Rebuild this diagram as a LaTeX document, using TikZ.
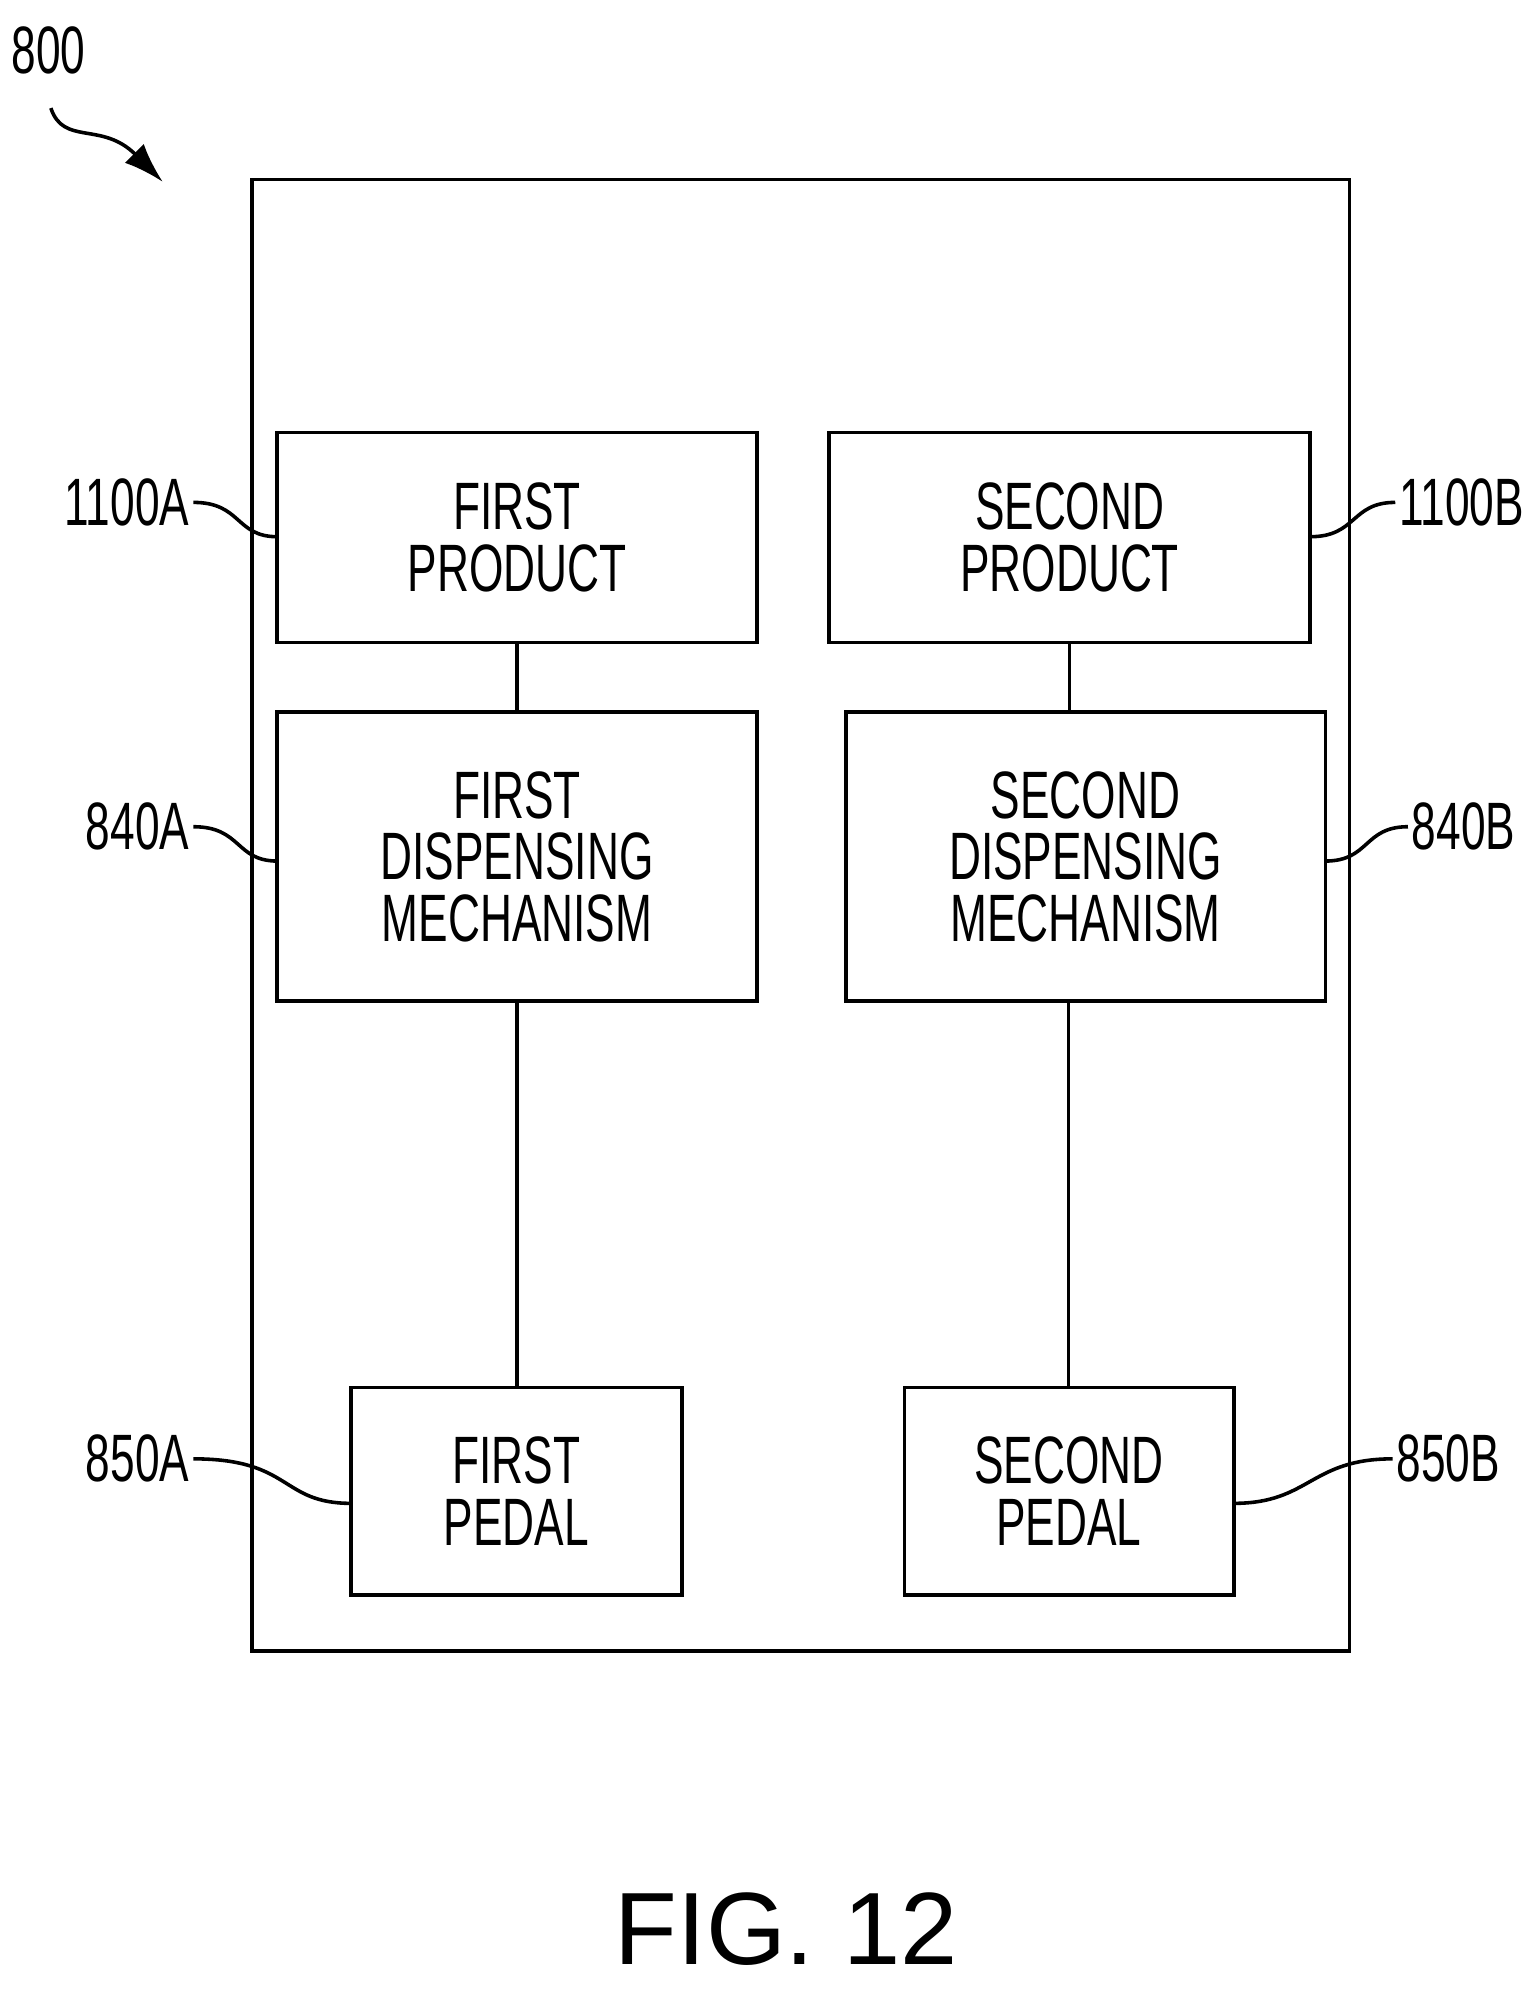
\documentclass[tikz,border=0pt]{standalone}
\usepackage{fontspec}
\usetikzlibrary{arrows.meta}
\setmainfont{Liberation Sans}
\newfontfamily\cond[FakeStretch=0.66]{Liberation Sans}
\begin{document}
\begin{tikzpicture}[x=0.02cm,y=-0.02cm,line width=1.6pt,
 box/.style={draw,font=\cond\fontsize{30}{27.5}\selectfont,align=center,inner sep=0},
 lab/.style={font=\cond\fontsize{30}{30}\selectfont,inner sep=1pt}]
\useasboundingbox (0,0) rectangle (1200,1578);
\node[draw,minimum width=863*0.02cm,minimum height=1157*0.02cm,inner sep=0] (outer) at (629.5,719.5) {};
\node[box,minimum width=377*0.02cm,minimum height=165*0.02cm] (p1) at (406.5,422.5) {FIRST\\PRODUCT};
\node[box,minimum width=378*0.02cm,minimum height=165*0.02cm] (p2) at (841,422.5) {SECOND\\PRODUCT};
\node[box,minimum width=377*0.02cm,minimum height=227*0.02cm] (d1) at (406.5,673.5) {FIRST\\DISPENSING\\MECHANISM};
\node[box,minimum width=377*0.02cm,minimum height=227*0.02cm] (d2) at (853.5,673.5) {SECOND\\DISPENSING\\MECHANISM};
\node[box,minimum width=260*0.02cm,minimum height=163*0.02cm] (f1) at (406,1172.5) {FIRST\\PEDAL};
\node[box,minimum width=259*0.02cm,minimum height=163*0.02cm] (f2) at (840.5,1172.5) {SECOND\\PEDAL};
\draw (p1.south) -- (p1.south |- d1.north);
\draw (d1.south) -- (d1.south |- f1.north);
\draw (p2.south) -- (p2.south |- d2.north);
\draw (840,787) -- (840,1091);
\node[lab,anchor=east] (l1) at (152,395) {1100A};
\node[lab,anchor=east] (l2) at (152,650) {840A};
\node[lab,anchor=east] (l3) at (152,1147) {850A};
\node[lab,anchor=west] (r1) at (1097,395) {1100B};
\node[lab,anchor=west] (r2) at (1107,650) {840B};
\node[lab,anchor=west] (r3) at (1095,1147) {850B};
\draw (l1.east) .. controls (190,395) and (185,422) .. (218,422);
\draw (l2.east) .. controls (190,650) and (185,677) .. (218,677);
\draw (l3.east) .. controls (230,1147) and (220,1182) .. (276,1182);
\draw (r1.west) .. controls (1062,395) and (1067,422) .. (1030,422);
\draw (r2.west) .. controls (1072,650) and (1077,677) .. (1042,677);
\draw (r3.west) .. controls (1030,1147) and (1030,1182) .. (970,1182);
\node[lab] (n800) at (38,40) {800};
\coordinate (a800) at (128,143);
\draw[-{Latex[length=18pt,width=12pt]}] (40,85) .. controls (50,115) and (80,95) .. (a800);
\node[font=\fontsize{46}{46}\selectfont] (fig) at (618,1517) {FIG. 12};
\end{tikzpicture}
\end{document}
